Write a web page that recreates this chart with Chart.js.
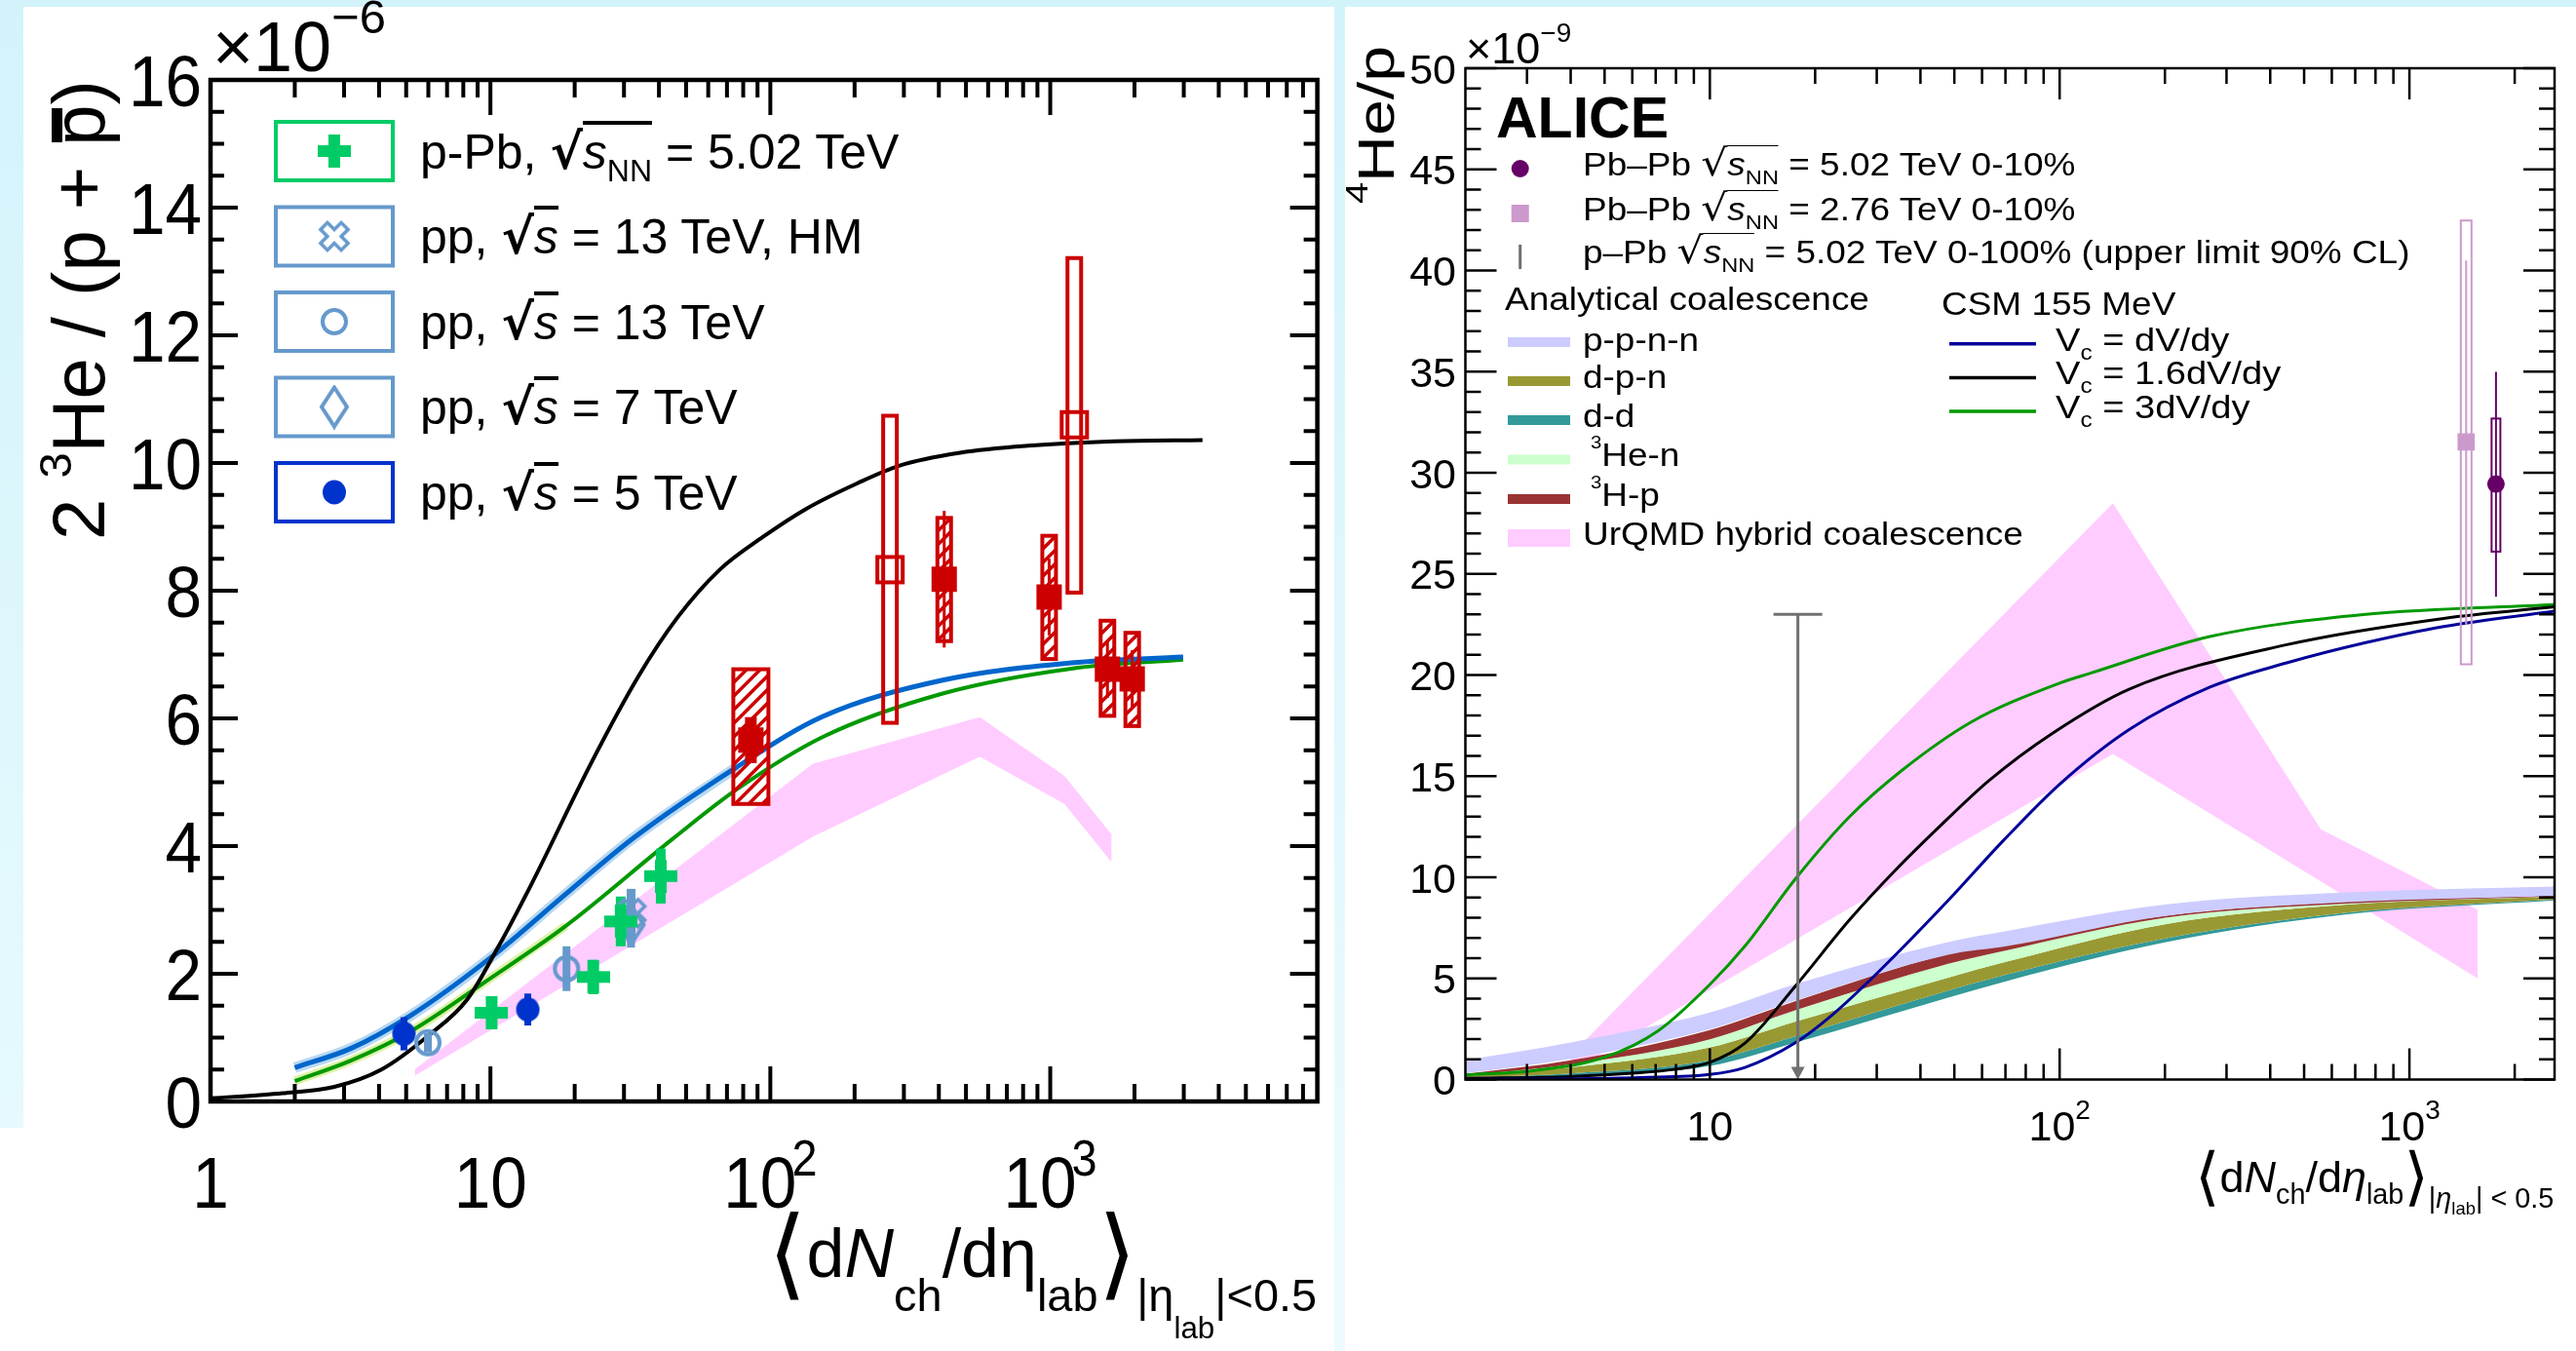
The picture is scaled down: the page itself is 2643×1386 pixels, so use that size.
<!DOCTYPE html>
<html>
<head>
<meta charset="utf-8">
<title>Helium over proton ratios vs multiplicity</title>
<script src="https://cdn.jsdelivr.net/npm/chart.js@4.4.1/dist/chart.umd.min.js"></script>
<style>
  html, body { margin: 0; padding: 0; background: #fff; }
  body { position: relative; width: 2643px; height: 1386px; overflow: hidden;
         font-family: "Liberation Sans", Arial, Helvetica, sans-serif; }
  .strip { position: absolute; background: #d3f3fb; }
  canvas { position: absolute; top: 0; }
  .t { position: absolute; white-space: nowrap; line-height: 1; color: #000; transform-origin: 0 0; }
  .sb { position: relative; top: 0.42em; font-size: 0.64em; line-height: 0; }
  .sbx { position: relative; top: 0.75em; font-size: 0.67em; line-height: 0; }
  .sbxx { position: relative; top: 0.9em; font-size: 0.67em; line-height: 0; }
  .sp { position: relative; top: -0.75em; font-size: 0.62em; line-height: 0; }
  .ov { border-top: 0.08em solid #000; }
  .ovr { border-top: 0.055em solid #000; }
  .rad { font-family: "DejaVu Sans", sans-serif; line-height: 0; }
  .br { font-family: "DejaVu Sans", sans-serif; font-size: 1.45em; line-height: 0;
        position: relative; top: 0.1em; }
  .pbar { position: relative; }
  .pbar::before { content: ""; position: absolute; left: 0.05em; right: 0.05em;
                  top: 0.2em; height: 0.14em; background: #000; }
</style>
</head>
<body>
<div class="strip" style="left:0;top:0;width:2643px;height:7px"></div>
<div class="strip" style="left:0;top:0;width:24px;height:1157px;background:linear-gradient(#d3f3fb,#e6fafd)"></div>
<div class="strip" style="left:1369px;top:0;width:11px;height:1386px;background:linear-gradient(#d3f3fb,#eefbfe)"></div>
<canvas id="left" width="1370" height="1386" style="left:0"></canvas>
<canvas id="right" width="1263" height="1386" style="left:1380px"></canvas>
<script>
// ---------- left panel: 2 3He/(p+pbar) vs <dNch/deta>, y in units of 1e-6 ----------
const ppbX = [10.1, 23.3, 29.2, 40.6];
const ppbY = [1.39, 1.95, 2.82, 3.53];
const ppbErr = [0.25, 0.27, 0.39, 0.43];

const pp13hmX = [31.8];
const pp13hmY = [2.95];
const pp13hmErr = [0.38];

const pp13X = [5.98, 18.7];
const pp13Y = [0.92, 2.08];
const pp13Err = [0.15, 0.35];

const pp7X = [31.8];
const pp7Y = [2.77];
const pp7Err = [0.36];

const pp5X = [4.91, 13.6];
const pp5Y = [1.06, 1.44];
const pp5Err = [0.26, 0.25];

const pbpb502X = [85.2, 418, 991, 1601, 1963];
const pbpb502Y = [5.66, 8.18, 7.90, 6.77, 6.62];
const pbpb502Stat = [0.36, 1.07, 0.60, 0.45, 0.45];
const pbpb502SysLo = [4.66, 7.21, 6.93, 6.04, 5.88];
const pbpb502SysHi = [6.77, 9.14, 8.86, 7.53, 7.34];

const pbpb276X = [267.6, 1219];
const pbpb276Y = [8.33, 10.6];
const pbpb276SysLo = [5.93, 7.97];
const pbpb276SysHi = [10.74, 13.21];

const blackX = [1, 1.81, 2.77, 4.08, 6.0, 8.27, 10.6, 14, 22.9, 33.8, 46.4, 66, 94, 134, 204, 290, 476, 834, 1690, 3500];
const blackY = [0.05, 0.13, 0.23, 0.5, 1.03, 1.6, 2.4, 3.4, 5.3, 6.66, 7.57, 8.33, 8.84, 9.28, 9.68, 9.96, 10.16, 10.27, 10.34, 10.36];
const blueX = [2, 3.17, 5.2, 10, 18.6, 32.5, 76, 154, 413, 1190, 2985];
const blueY = [0.53, 0.83, 1.35, 2.25, 3.25, 4.13, 5.24, 6.03, 6.6, 6.87, 6.96];
const greenX = [2, 3.17, 5.2, 10, 18.6, 45, 76, 154, 413, 1190, 2985];
const greenY = [0.32, 0.64, 1.1, 1.93, 2.75, 4.12, 4.89, 5.71, 6.39, 6.78, 6.92];

const urqmdLX = [5.36, 142, 560, 1124, 1657];
const urqmdLHi = [0.5, 5.29, 6.02, 5.1, 4.18];
const urqmdLLo = [0.4, 4.15, 5.4, 4.66, 3.75];

const leftYTicks = [0, 2, 4, 6, 8, 10, 12, 14, 16];
const leftXTickVals = [1, 10, 100, 1000];
const leftXTickText = ['1', '10', '10^2', '10^3'];

// ---------- right panel: 4He/p vs <dNch/deta>, y in units of 1e-9 ----------
const pbpb5RX = [1768];
const pbpb5RY = [29.44];
const pbpb5RStatLo = [23.87];
const pbpb5RStatHi = [34.99];
const pbpb5RSysLo = [26.1];
const pbpb5RSysHi = [32.68];

const pbpb276RX = [1453];
const pbpb276RY = [31.52];
const pbpb276RStatLo = [22.5];
const pbpb276RStatHi = [40.5];
const pbpb276RSysLo = [20.53];
const pbpb276RSysHi = [42.47];

const ppbLimitX = [17.85];
const ppbLimitY = [23.0];

const coalX = [2, 4, 10, 17.6, 48, 71, 200, 664, 2600];
const ppnnTop = [0.95, 1.83, 3.31, 4.72, 6.8, 7.35, 8.65, 9.25, 9.54];
const ppnnBot = [0.30, 1.03, 2.5, 3.92, 6.17, 6.6, 8.09, 8.77, 9.09];
const hpTop = [0.28, 0.95, 2.45, 3.88, 6.2, 6.75, 8.1, 8.8, 9.1];
const hpBot = [0.2, 0.75, 1.99, 3.43, 5.72, 6.4, 8.0, 8.7, 9.05];
const henBot = [0.16, 0.6, 1.59, 2.87, 5.04, 5.84, 7.68, 8.65, 9.05];
const dpnBot = [0.1, 0.3, 0.95, 2.15, 4.4, 5.2, 6.97, 8.25, 8.9];
const ddBot = [0.05, 0.15, 0.67, 1.83, 4.05, 4.88, 6.78, 8.17, 8.85];

const csm1X = [2, 4, 6.3, 10, 12.6, 17.6, 22.4, 30.5, 48.3, 68.9, 100, 158, 269, 446, 750, 1253, 2600];
const csm1Y = [0.01, 0.04, 0.1, 0.25, 0.6, 1.83, 3.2, 5.36, 8.9, 11.8, 14.6, 17.3, 19.4, 20.6, 21.6, 22.4, 23.16];
const csm16X = [2, 4, 6.14, 7.9, 10, 12.6, 17.6, 25.1, 33.7, 44.7, 63, 95, 158, 446, 1253, 2600];
const csm16Y = [0.06, 0.15, 0.32, 0.5, 0.85, 1.8, 4.64, 7.9, 10.3, 12.4, 14.8, 17.1, 19.3, 21.5, 22.8, 23.37];
const csm3X = [2, 3.16, 5.0, 7.1, 10, 12.6, 17.6, 25.1, 35.5, 56.2, 100, 123, 269, 750, 2600];
const csm3Y = [0.23, 0.45, 1.1, 2.4, 4.7, 6.6, 9.94, 13.0, 15.3, 17.7, 19.6, 20.1, 21.9, 23.0, 23.48];

const urqmdRX = [4, 142, 558, 1567];
const urqmdRHi = [1.2, 28.5, 12.37, 8.4];
const urqmdRLo = [0.4, 16.1, 9.8, 5.0];

const rightYTicks = [0, 5, 10, 15, 20, 25, 30, 35, 40, 45, 50];
const rightXTickVals = [10, 100, 1000];
const rightXTickText = ['10', '10^2', '10^3'];

// ---------- styles ----------
const FONT = '"Liberation Sans", Arial, Helvetica, sans-serif';
const RED = '#cc0000', PPB_GREEN = '#00cc66', LBLUE = '#6699cc', DBLUE = '#0033cc';
const PINK = '#ffccff';
const PBPB502_BOXW = [36, 14, 14, 14, 14];
const PBPB502_STATW = [12, 3, 3, 3, 3];
const PBPB276_BOXW = [14, 14];

const pts = (xs, ys) => xs.map((x, i) => ({x, y: ys[i]}));

function curve(xs, ys, color, width, order) {
  return {data: pts(xs, ys), borderColor: color, borderWidth: width, pointRadius: 0,
          fill: false, order, cubicInterpolationMode: 'monotone'};
}
function band(xs, hi, lo, color, order, smooth = true) {
  const base = {borderColor: 'rgba(0,0,0,0)', borderWidth: 0, pointRadius: 0, order,
                cubicInterpolationMode: smooth ? 'monotone' : 'default', tension: 0};
  return [
    Object.assign({data: pts(xs, hi), backgroundColor: color, fill: '+1'}, base),
    Object.assign({data: pts(xs, lo), fill: false}, base)
  ];
}
function markers(xs, ys, style, radius, color) {
  return {data: pts(xs, ys), showLine: false, pointStyle: style, pointRadius: radius,
          pointHoverRadius: radius, backgroundColor: color || 'rgba(0,0,0,0)',
          borderWidth: 0, order: 0};
}

function makeMarker(w, h, draw) {
  const c = document.createElement('canvas');
  c.width = w; c.height = h;
  draw(c.getContext('2d'), w, h);
  return c;
}
const plusMk = makeMarker(34, 34, g => {
  g.fillStyle = PPB_GREEN; g.fillRect(11, 0, 12, 34); g.fillRect(0, 11, 34, 12);
});
const openXMk = makeMarker(36, 36, g => {
  const a = 5, L = 15;
  g.translate(18, 18); g.rotate(Math.PI / 4);
  g.strokeStyle = LBLUE; g.lineWidth = 3.5;
  g.beginPath();
  [[a, -L], [a, -a], [L, -a], [L, a], [a, a], [a, L], [-a, L], [-a, a], [-L, a], [-L, -a], [-a, -a], [-a, -L]]
    .forEach(([x, y], i) => i ? g.lineTo(x, y) : g.moveTo(x, y));
  g.closePath(); g.stroke();
});
const openCircMk = makeMarker(32, 32, g => {
  g.strokeStyle = LBLUE; g.lineWidth = 4; g.beginPath(); g.arc(16, 16, 12, 0, Math.PI * 2); g.stroke();
});
const openDiamMk = makeMarker(32, 46, g => {
  g.strokeStyle = LBLUE; g.lineWidth = 4; g.beginPath();
  g.moveTo(16, 3); g.lineTo(29, 23); g.lineTo(16, 43); g.lineTo(3, 23); g.closePath(); g.stroke();
});
const fullCircMk = makeMarker(26, 26, g => {
  g.fillStyle = DBLUE; g.beginPath(); g.ellipse(13, 13, 12, 12.5, 0, 0, Math.PI * 2); g.fill();
});
const openSqMk = makeMarker(32, 32, g => {
  g.strokeStyle = RED; g.lineWidth = 4; g.strokeRect(3, 3, 26, 26);
});

// ---------- drawing helpers ----------
function txt(ctx, s, x, y, font, sx, align) {
  ctx.save();
  ctx.font = font; ctx.textBaseline = 'alphabetic'; ctx.textAlign = 'left';
  const w = ctx.measureText(s).width * sx;
  const x0 = align === 'right' ? x - w : align === 'center' ? x - w / 2 : x;
  ctx.translate(x0, y); ctx.scale(sx, 1); ctx.fillText(s, 0, 0);
  ctx.restore();
  return w;
}
function powLabel(ctx, s, x, f) {
  const [b, e] = s.split('^');
  ctx.font = f.font;
  const wb = ctx.measureText(b).width * f.sx;
  let we = 0;
  if (e) { ctx.font = f.expFont; we = ctx.measureText(e).width * f.sx - f.expOverlap; }
  const x0 = x - (wb + we) / 2;
  txt(ctx, b, x0, f.xBase, f.font, f.sx, 'left');
  if (e) txt(ctx, e, x0 + wb - f.expOverlap, f.xBase - f.expRaise, f.expFont, f.sx, 'left');
}
function logMinor(min, max) {
  const out = [];
  [1, 10, 100, 1000].forEach(d => { for (let m = 2; m <= 9; m++) { const v = m * d; if (v > min && v < max) out.push(v); } });
  return out;
}
function linMinor(min, max, step) {
  const out = [];
  for (let v = min; v <= max + 1e-9; v += step) out.push(+v.toFixed(4));
  return out;
}
function drawFrame(chart, f) {
  const {ctx, chartArea: a} = chart;
  const X = chart.scales.x, Y = chart.scales.y;
  ctx.save();
  ctx.strokeStyle = '#000';
  ctx.lineWidth = f.tickW;
  ctx.beginPath();
  const yTick = (v, len) => {
    const p = Y.getPixelForValue(v);
    ctx.moveTo(a.left, p); ctx.lineTo(a.left + len, p);
    ctx.moveTo(a.right, p); ctx.lineTo(a.right - len, p);
  };
  const xTick = (v, len) => {
    const p = X.getPixelForValue(v);
    ctx.moveTo(p, a.bottom); ctx.lineTo(p, a.bottom - len);
    ctx.moveTo(p, a.top); ctx.lineTo(p, a.top + len);
  };
  f.yMinor.forEach(v => yTick(v, f.yMinLen));
  f.yMajor.forEach(v => yTick(v, f.yMajLen));
  f.xMinor.forEach(v => xTick(v, f.xMinLen));
  f.xMajor.forEach(v => xTick(v, f.xMajLen));
  ctx.stroke();
  ctx.lineWidth = f.frameW;
  ctx.strokeRect(a.left, a.top, a.right - a.left, a.bottom - a.top);
  ctx.fillStyle = '#000';
  f.yMajor.forEach(v => txt(ctx, String(v), a.left - f.yGap, Y.getPixelForValue(v) + f.yShift, f.font, f.sx, 'right'));
  f.xText.forEach((s, i) => powLabel(ctx, s, X.getPixelForValue(f.xMajor[i]), f));
  ctx.restore();
}
function sysBox(ctx, cx, yTop, yBot, w, color, lw, hatch) {
  ctx.save();
  ctx.strokeStyle = color;
  if (hatch) {
    ctx.save();
    ctx.beginPath(); ctx.rect(cx - w / 2, yTop, w, yBot - yTop); ctx.clip();
    ctx.lineWidth = 3.5; ctx.beginPath();
    for (let y = yTop - w; y < yBot + w; y += 14) { ctx.moveTo(cx - w / 2, y + w); ctx.lineTo(cx + w / 2, y); }
    ctx.stroke();
    ctx.restore();
  }
  ctx.lineWidth = lw;
  ctx.strokeRect(cx - w / 2, yTop, w, yBot - yTop);
  ctx.restore();
}

// ---------- left chart ----------
const leftFrame = {
  tickW: 4, frameW: 4.5, yMajLen: 28, yMinLen: 14, xMajLen: 36, xMinLen: 18,
  yMajor: leftYTicks, yMinor: linMinor(0, 16, 0.5),
  xMajor: leftXTickVals, xMinor: logMinor(1, 9000), xText: leftXTickText,
  font: `75px ${FONT}`, expFont: `52px ${FONT}`, sx: 0.9, yGap: 9, yShift: 27,
  xBase: 1239, expRaise: 33, expOverlap: 5
};

function leftErrors(chart) {
  const {ctx} = chart;
  const px = v => chart.scales.x.getPixelForValue(v), py = v => chart.scales.y.getPixelForValue(v);
  const bar = (x, y, e, color, w) => {
    const t = py(y + e), b = py(y - e);
    ctx.fillStyle = color; ctx.fillRect(px(x) - w / 2, t, w, b - t);
  };
  pbpb502X.forEach((x, i) => sysBox(ctx, px(x), py(pbpb502SysHi[i]), py(pbpb502SysLo[i]), PBPB502_BOXW[i], RED, 4, true));
  pbpb276X.forEach((x, i) => sysBox(ctx, px(x), py(pbpb276SysHi[i]), py(pbpb276SysLo[i]), PBPB276_BOXW[i], RED, 4, false));
  pbpb502X.forEach((x, i) => bar(x, pbpb502Y[i], pbpb502Stat[i], RED, PBPB502_STATW[i]));
  ppbX.forEach((x, i) => bar(x, ppbY[i], ppbErr[i], PPB_GREEN, 10));
  pp13hmX.forEach((x, i) => bar(x, pp13hmY[i], pp13hmErr[i], LBLUE, 9));
  pp7X.forEach((x, i) => bar(x, pp7Y[i], pp7Err[i], LBLUE, 8));
  pp13X.forEach((x, i) => bar(x, pp13Y[i], pp13Err[i], LBLUE, 8));
  pp5X.forEach((x, i) => bar(x, pp5Y[i], pp5Err[i], DBLUE, 7));
}

function leftLegend(chart) {
  const {ctx} = chart;
  const colors = [PPB_GREEN, LBLUE, LBLUE, LBLUE, DBLUE];
  const mk = [plusMk, openXMk, openCircMk, openDiamMk, fullCircMk];
  ctx.save();
  colors.forEach((c, i) => {
    const top = 125 + i * 87.5;
    ctx.strokeStyle = c; ctx.lineWidth = 4;
    ctx.strokeRect(283, top, 120, 60);
    ctx.drawImage(mk[i], 343 - mk[i].width / 2, top + 30 - mk[i].height / 2);
  });
  ctx.restore();
}

const leftDecor = {
  id: 'leftDecor',
  beforeDatasetsDraw(chart) { chart.$errDone = false; },
  beforeDatasetDraw(chart, args) {
    if (!chart.$errDone && args.meta.order === 0) { leftErrors(chart); chart.$errDone = true; }
  },
  afterDraw(chart) { drawFrame(chart, leftFrame); leftLegend(chart); }
};

new Chart(document.getElementById('left'), {
  type: 'line',
  data: {datasets: [
    ...band(urqmdLX, urqmdLHi, urqmdLLo, PINK, 30, false),
    curve(blueX.slice(0, 7), blueY.slice(0, 7), '#b8d8f2', 11, 20),
    curve(greenX.slice(0, 5), greenY.slice(0, 5), '#dcf2a8', 9, 20),
    curve(blackX, blackY, '#000000', 4, 10),
    curve(blueX, blueY, '#0066cc', 5, 10),
    curve(greenX, greenY, '#009900', 4, 10),
    markers(ppbX, ppbY, plusMk, 10),
    markers(pp13hmX, pp13hmY, openXMk, 10),
    markers(pp7X, pp7Y, openDiamMk, 10),
    markers(pp13X, pp13Y, openCircMk, 10),
    markers(pp5X, pp5Y, fullCircMk, 10),
    markers(pbpb502X, pbpb502Y, 'rect', 18.4, RED),
    markers(pbpb276X, pbpb276Y, openSqMk, 10)
  ]},
  options: {
    responsive: false, animation: false, events: [],
    layout: {padding: {left: 216, top: 82, right: 1370 - 1353, bottom: 1386 - 1130}},
    plugins: {legend: {display: false}, tooltip: {enabled: false}},
    scales: {
      x: {type: 'logarithmic', min: 1, max: 9000, display: false},
      y: {type: 'linear', min: 0, max: 16, display: false}
    }
  },
  plugins: [leftDecor]
});

// ---------- right chart ----------
const RX = 1380;
const rightFrame = {
  tickW: 2.5, frameW: 2.5, yMajLen: 32, yMinLen: 16, xMajLen: 32, xMinLen: 16,
  yMajor: rightYTicks, yMinor: linMinor(0, 50, 1),
  xMajor: rightXTickVals, xMinor: logMinor(2, 2600), xText: rightXTickText,
  font: `43px ${FONT}`, expFont: `28px ${FONT}`, sx: 1, yGap: 9.5, yShift: 15.5,
  xBase: 1170, expRaise: 22, expOverlap: 0
};

function rightErrors(chart) {
  const {ctx} = chart;
  const px = v => chart.scales.x.getPixelForValue(v), py = v => chart.scales.y.getPixelForValue(v);
  ctx.save();
  ppbLimitX.forEach((x, i) => {
    const X = px(x), T = py(ppbLimitY[i]), B = py(0);
    ctx.strokeStyle = '#707070'; ctx.fillStyle = '#707070'; ctx.lineWidth = 3;
    ctx.beginPath(); ctx.moveTo(X - 25, T); ctx.lineTo(X + 25, T);
    ctx.moveTo(X, T); ctx.lineTo(X, B - 12); ctx.stroke();
    ctx.beginPath(); ctx.moveTo(X - 7, B - 13); ctx.lineTo(X + 7, B - 13); ctx.lineTo(X, B); ctx.closePath(); ctx.fill();
  });
  const stat = (xs, lo, hi, color) => xs.forEach((x, i) => {
    ctx.strokeStyle = color; ctx.lineWidth = 2;
    ctx.beginPath(); ctx.moveTo(px(x), py(hi[i])); ctx.lineTo(px(x), py(lo[i])); ctx.stroke();
  });
  stat(pbpb276RX, pbpb276RStatLo, pbpb276RStatHi, '#cc99cc');
  pbpb276RX.forEach((x, i) => sysBox(ctx, px(x), py(pbpb276RSysHi[i]), py(pbpb276RSysLo[i]), 11, '#cc99cc', 2, false));
  stat(pbpb5RX, pbpb5RStatLo, pbpb5RStatHi, '#660066');
  pbpb5RX.forEach((x, i) => sysBox(ctx, px(x), py(pbpb5RSysHi[i]), py(pbpb5RSysLo[i]), 9, '#660066', 2, false));
  ctx.restore();
}

function rightLegend(chart) {
  const {ctx} = chart;
  const mx = 1559.7 - RX;
  ctx.save();
  ctx.fillStyle = '#660066'; ctx.beginPath(); ctx.arc(mx, 173, 9, 0, Math.PI * 2); ctx.fill();
  ctx.fillStyle = '#cc99cc'; ctx.fillRect(mx - 9, 210, 18, 18);
  ctx.strokeStyle = '#707070'; ctx.lineWidth = 3;
  ctx.beginPath(); ctx.moveTo(mx, 251); ctx.lineTo(mx, 276); ctx.stroke();
  const lx0 = 1547 - RX, lx1 = 1611 - RX;
  [['#ccccff', 351], ['#999933', 391], ['#339999', 431], ['#ccffcc', 471.5], ['#993333', 512]].forEach(([c, y]) => {
    ctx.fillStyle = c; ctx.fillRect(lx0, y - 5, lx1 - lx0, 10);
  });
  ctx.fillStyle = PINK; ctx.fillRect(lx0, 543, lx1 - lx0, 18);
  [['#000099', 352.7], ['#000000', 387.5], ['#009900', 421.9]].forEach(([c, y]) => {
    ctx.strokeStyle = c; ctx.lineWidth = 3.5;
    ctx.beginPath(); ctx.moveTo(2000 - RX, y); ctx.lineTo(2089 - RX, y); ctx.stroke();
  });
  ctx.restore();
}

const rightDecor = {
  id: 'rightDecor',
  beforeDatasetsDraw(chart) { chart.$errDone = false; },
  beforeDatasetDraw(chart, args) {
    if (!chart.$errDone && args.meta.order === 0) { rightErrors(chart); chart.$errDone = true; }
  },
  afterDraw(chart) { drawFrame(chart, rightFrame); rightLegend(chart); }
};

new Chart(document.getElementById('right'), {
  type: 'line',
  data: {datasets: [
    ...band(urqmdRX, urqmdRHi, urqmdRLo, PINK, 40, false),
    ...band(coalX, dpnBot, ddBot, '#339999', 35),
    ...band(coalX, henBot, dpnBot, '#999933', 34),
    ...band(coalX, hpBot, henBot, '#ccffcc', 33),
    ...band(coalX, hpTop, hpBot, '#993333', 32),
    ...band(coalX, ppnnTop, ppnnBot, '#ccccff', 31),
    curve(csm1X, csm1Y, '#000099', 3, 10),
    curve(csm16X, csm16Y, '#000000', 3, 10),
    curve(csm3X, csm3Y, '#009900', 3, 10),
    markers(pbpb276RX, pbpb276RY, 'rect', 12.5, '#cc99cc'),
    markers(pbpb5RX, pbpb5RY, 'circle', 9, '#660066')
  ]},
  options: {
    responsive: false, animation: false, events: [],
    layout: {padding: {left: 1503.5 - RX, top: 70, right: 2643 - 2621, bottom: 1386 - 1107.5}},
    plugins: {legend: {display: false}, tooltip: {enabled: false}},
    scales: {
      x: {type: 'logarithmic', min: 2, max: 2600, display: false},
      y: {type: 'linear', min: 0, max: 50, display: false}
    }
  },
  plugins: [rightDecor]
});

// ---------- text (titles, legends) ----------
const ASC = 0.8465; // baseline offset of Liberation Sans at line-height 1
function label(html, x, base, size, o = {}) {
  const d = document.createElement('div');
  d.className = 't';
  d.innerHTML = html;
  d.style.fontSize = size + 'px';
  if (o.bold) d.style.fontWeight = 'bold';
  document.body.appendChild(d);
  const sx = o.sx || 1;
  const w = d.offsetWidth * sx;
  if (o.rot) {
    d.style.transform = `rotate(-90deg) scaleX(${sx})`;
    d.style.left = (x - ASC * size) + 'px';
    d.style.top = (o.end + w) + 'px';
  } else {
    if (sx !== 1) d.style.transform = `scaleX(${sx})`;
    d.style.left = (o.right ? x - w : x) + 'px';
    d.style.top = (base - ASC * size) + 'px';
  }
  return d;
}
const rtL = inner => `<span class="rad" style="font-weight:bold">√</span><span class="ov">${inner}</span>`;
const rtR = inner => `<span class="rad" style="font-size:1.15em">√</span><span class="ovr">${inner}</span>`;
const sNN = '<i>s</i><span class="sb">NN</span>';

// left panel
label('2 <span class="sp" style="top:-0.73em">3</span>He / (p + <span class="pbar">p</span>)', 107, 0, 76, {rot: true, end: 82});
label('×10<span class="sp" style="top:-0.8em;font-size:0.68em">−6</span>', 218, 73, 72);
label('<span class="br">⟨</span>d<i>N</i><span class="sbx">ch</span>/dη<span class="sbx">lab</span><span class="br">⟩</span>' +
      '<span class="sbx">|η<span class="sbxx">lab</span>|&lt;0.5</span>', 1351, 1310, 70, {right: true});
[`p-Pb, ${rtL(sNN)} = 5.02 TeV`,
 `pp, ${rtL('<i>s</i>')} = 13 TeV, HM`,
 `pp, ${rtL('<i>s</i>')} = 13 TeV`,
 `pp, ${rtL('<i>s</i>')} = 7 TeV`,
 `pp, ${rtL('<i>s</i>')} = 5 TeV`].forEach((s, i) => label(s, 431, 173 + i * 87.5, 50));

// right panel
label('<span class="sp" style="top:-0.87em;font-size:0.6em">4</span>He/p', 1430, 0, 51, {rot: true, end: 46, sx: 1.3});
label('×10<span class="sp" style="top:-0.8em;font-size:0.62em">−9</span>', 1504, 65, 45);
label('ALICE', 1535, 142, 59, {bold: true});
const RL = {sx: 1.12};
label(`Pb–Pb ${rtR(sNN)} = 5.02 TeV 0-10%`, 1624, 180, 33, RL);
label(`Pb–Pb ${rtR(sNN)} = 2.76 TeV 0-10%`, 1624, 225.8, 33, RL);
label(`p–Pb ${rtR(sNN)} = 5.02 TeV 0-100% (upper limit 90% CL)`, 1624, 269.8, 33, RL);
label('Analytical coalescence', 1544, 318.4, 33, RL);
label('CSM 155 MeV', 1992, 323, 33, RL);
label('p-p-n-n', 1624, 359.7, 33, RL);
label('d-p-n', 1624, 398, 33, RL);
label('d-d', 1624, 438.2, 33, RL);
label('<span class="sp" style="top:-1em;font-size:0.55em">3</span>He-n', 1632, 478.4, 33, RL);
label('<span class="sp" style="top:-1em;font-size:0.55em">3</span>H-p', 1632, 518.6, 33, RL);
label('UrQMD hybrid coalescence', 1624, 558.7, 33, RL);
label('V<span class="sb">c</span> = dV/dy', 2109, 359.4, 34, RL);
label('V<span class="sb">c</span> = 1.6dV/dy', 2109, 394, 34, RL);
label('V<span class="sb">c</span> = 3dV/dy', 2109, 428.5, 34, RL);
label('<span class="br">⟨</span>d<i>N</i><span class="sb">ch</span>/d<i>η</i><span class="sb">lab</span><span class="br">⟩</span>' +
      '<span class="sb" style="top:0.55em">|<i>η</i><span class="sb">lab</span>| &lt; 0.5</span>', 2620, 1223, 45, {right: true});
</script>
</body>
</html>
